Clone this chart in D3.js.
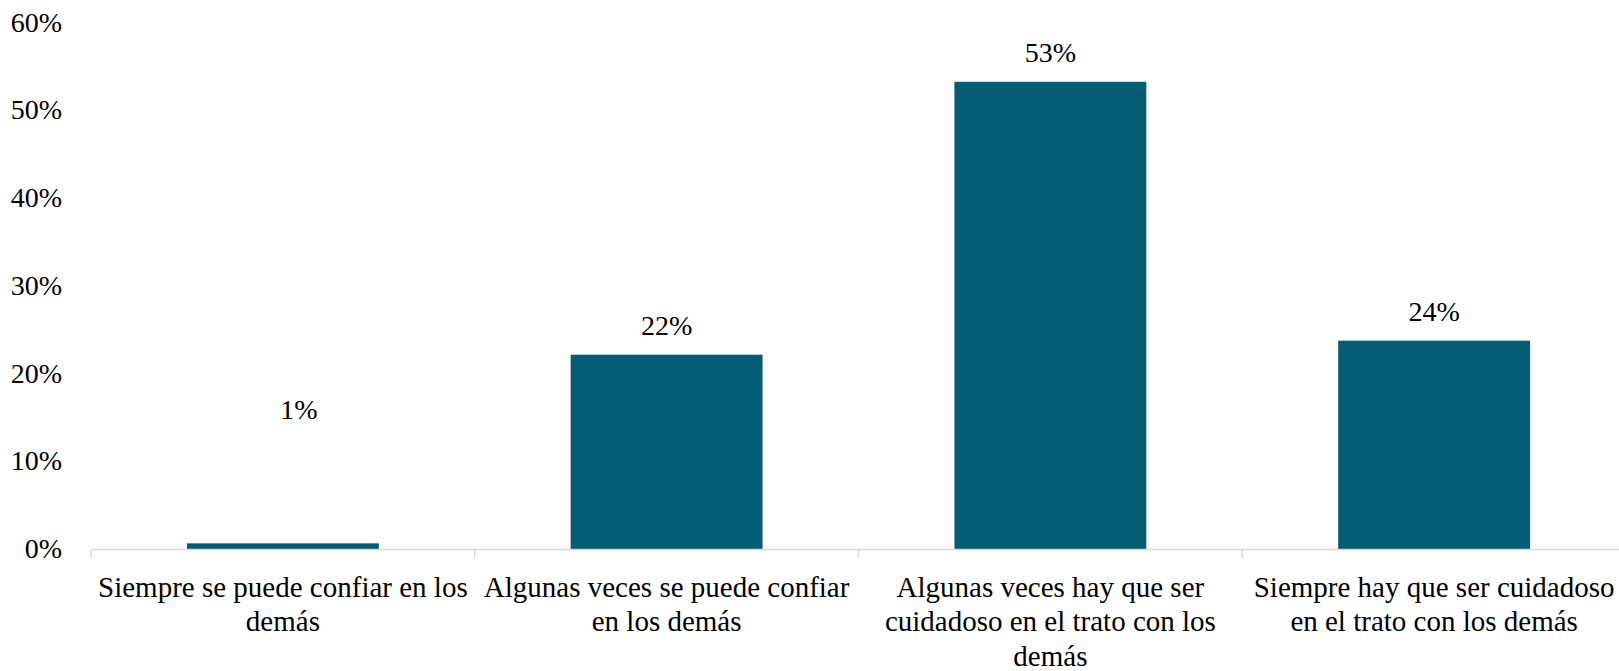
<!DOCTYPE html>
<html>
<head>
<meta charset="utf-8">
<script src="https://cdn.jsdelivr.net/npm/d3@7"></script>
<style>
  html, body { margin: 0; padding: 0; background: #fff; }
  svg { display: block; }
  text { font-family: "Liberation Serif", "Times New Roman", serif; fill: #000; }
</style>
</head>
<body>
<svg id="chart" width="1619" height="671"></svg>
<script>
// ---- data ----
const categories = [
  "Siempre se puede confiar en los demás",
  "Algunas veces se puede confiar en los demás",
  "Algunas veces hay que ser cuidadoso en el trato con los demás",
  "Siempre hay que ser cuidadoso en el trato con los demás"
];
const categoryLines = [
  ["Siempre se puede confiar en los", "demás"],
  ["Algunas veces se puede confiar", "en los demás"],
  ["Algunas veces hay que ser", "cuidadoso en el trato con los", "demás"],
  ["Siempre hay que ser cuidadoso", "en el trato con los demás"]
];
const values = [0.7, 22.2, 53.3, 23.8];
const valueLabels = ["1%", "22%", "53%", "24%"];
const yTicks = [0, 10, 20, 30, 40, 50, 60];

// ---- layout ----
const svg = d3.select("#chart");
const x0 = 91, x1 = 1626, yBase = 549.5, yTop = 23;
const fontSize = 28;
const catFontSize = 29;
const barColor = "#025d75";

const x = d3.scaleBand().domain(categories).range([x0, x1]).paddingInner(0.5).paddingOuter(0.25);
const y = d3.scaleLinear().domain([0, 60]).range([yBase, yTop]);

// y axis labels (no line)
const yAxis = d3.axisLeft(y).tickValues(yTicks).tickFormat(d => d + "%").tickSize(0).tickPadding(0);
const gy = svg.append("g").attr("transform", "translate(62,0)").call(yAxis);
gy.select(".domain").remove();
gy.selectAll("text")
  .attr("font-family", "Liberation Serif")
  .attr("font-size", fontSize)
  .attr("fill", "#000")
  .attr("dy", "0.29em");

// bars
svg.append("g").selectAll("rect")
  .data(values)
  .join("rect")
  .attr("x", (d, i) => x(categories[i]))
  .attr("width", x.bandwidth())
  .attr("y", d => y(d))
  .attr("height", d => y(0) - y(d))
  .attr("fill", barColor);

// x axis line with category boundary ticks
const xb = d3.scalePoint().domain(d3.range(categories.length + 1)).range([x0, x1]);
svg.append("line")
  .attr("x1", x0).attr("x2", x1)
  .attr("y1", yBase).attr("y2", yBase)
  .attr("stroke", "#d9d9d9").attr("stroke-width", 1.5);
svg.append("g").selectAll("line")
  .data(xb.domain())
  .join("line")
  .attr("x1", d => xb(d)).attr("x2", d => xb(d))
  .attr("y1", yBase).attr("y2", yBase + 9)
  .attr("stroke", "#d9d9d9").attr("stroke-width", 1.5);

// category labels
const cx = i => x(categories[i]) + x.bandwidth() / 2;
const lab = svg.append("g").selectAll("text")
  .data(categoryLines)
  .join("text")
  .attr("text-anchor", "middle")
  .attr("font-size", catFontSize);
lab.each(function(lines, i) {
  d3.select(this).selectAll("tspan")
    .data(lines)
    .join("tspan")
    .attr("x", cx(i))
    .attr("y", (l, j) => 597 + j * 34.3)
    .text(l => l);
});

// value labels (first label manually moved up/right as in the original)
svg.append("g").selectAll("text")
  .data(values)
  .join("text")
  .attr("text-anchor", "middle")
  .attr("font-size", fontSize)
  .attr("x", (d, i) => cx(i) + (i === 0 ? 16 : 0))
  .attr("y", (d, i) => (i === 0 ? y(Math.max(d, 12.6)) : y(d)) - 20)
  .text((d, i) => valueLabels[i]);
</script>
</body>
</html>
